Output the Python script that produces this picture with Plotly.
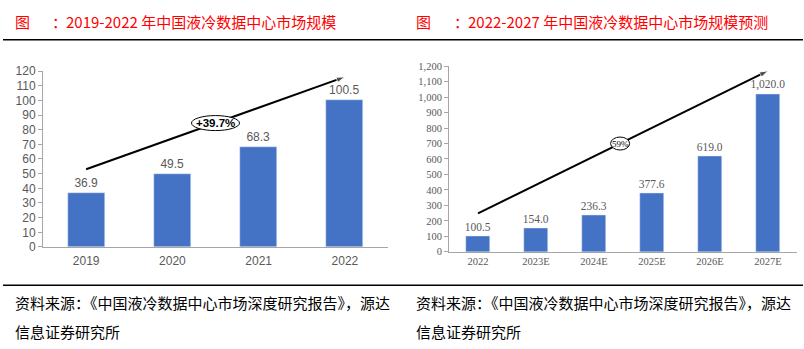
import plotly.graph_objects as go

W, H = 804, 349

# ---- data ----
years_a = ["2019", "2020", "2021", "2022"]
size_a = [36.9, 49.5, 68.3, 100.5]
trend_a_x = [0, 3]
trend_a_y = [53, 116]
cagr_a = "+39.7%"

years_b = ["2022", "2023E", "2024E", "2025E", "2026E", "2027E"]
size_b = [100.5, 154.0, 236.3, 377.6, 619.0, 1020.0]
trend_b_x = [0, 5]
trend_b_y = [249, 1171]
cagr_b = "59%"

title_a = "2019-2022 年中国液冷数据中心市场规模"
title_b = "2022-2027 年中国液冷数据中心市场规模预测"
source_l1 = "资料来源：《中国液冷数据中心市场深度研究报告》，源达"
source_l2 = "信息证券研究所"

BAR = "#4472C4"
GRAY = "#595959"
AX = "#A6A6A6"
CJK = "Noto Sans CJK SC"
SANS = "Liberation Sans, Arial"
SERIF = "Liberation Serif, DejaVu Serif"


def px(x):
    return x / W


def py(y):
    return 1 - y / H


fig = go.Figure()

fig.add_trace(go.Bar(
    x=years_a, y=size_a, marker_color=BAR, width=0.43,
    text=[f"{v:.1f}" for v in size_a], textposition="outside",
    textfont=dict(family=SANS, size=12, color=GRAY), cliponaxis=False,
    constraintext="none",
    xaxis="x", yaxis="y", showlegend=False))

fig.add_trace(go.Scatter(
    x=trend_a_x, y=trend_a_y, mode="lines+markers", xaxis="x3", yaxis="y",
    line=dict(color="black", width=2),
    marker=dict(symbol=["circle", "arrow"], size=[0, 9], color="black",
                angleref="previous"),
    showlegend=False, hoverinfo="skip", cliponaxis=False))

fig.add_trace(go.Bar(
    x=years_b, y=size_b, marker_color=BAR, width=0.43,
    texttemplate="%{y:,.1f}", textposition="outside",
    textfont=dict(family=SERIF, size=11.5, color=GRAY), cliponaxis=False,
    constraintext="none",
    xaxis="x2", yaxis="y2", showlegend=False))

fig.add_trace(go.Scatter(
    x=trend_b_x, y=trend_b_y, mode="lines+markers", xaxis="x4", yaxis="y2",
    line=dict(color="black", width=2),
    marker=dict(symbol=["circle", "arrow"], size=[0, 9], color="black",
                angleref="previous"),
    showlegend=False, hoverinfo="skip", cliponaxis=False))

common_y = dict(showgrid=False, zeroline=False, showline=True, linecolor=AX,
                ticks="outside", ticklen=4, tickcolor=AX)
common_x = dict(showgrid=False, zeroline=False, showline=True, linecolor=AX,
                ticks="")

fig.update_layout(
    width=W, height=H, margin=dict(l=0, r=0, t=0, b=0),
    paper_bgcolor="white", plot_bgcolor="white", bargap=0,
    xaxis=dict(domain=[px(43), px(388)], anchor="y", type="category",
               range=[-0.5, 3.5], tickfont=dict(family=SANS, size=12, color=GRAY),
               ticklabelstandoff=3, **common_x),
    yaxis=dict(domain=[py(250), py(66.7)], anchor="x", range=[0, 120],
               tickvals=list(range(0, 121, 10)),
               tickfont=dict(family=SANS, size=12, color=GRAY), **common_y),
    xaxis3=dict(domain=[px(43), px(388)], anchor="y", overlaying="x",
                range=[-0.5, 3.5], visible=False),
    xaxis2=dict(domain=[px(449), px(797)], anchor="y2", type="category",
                range=[-0.5, 5.5], tickfont=dict(family=SERIF, size=10.5, color=GRAY),
                **common_x),
    yaxis2=dict(domain=[py(255), py(61.7)], anchor="x2", range=[0, 1200],
                tickvals=list(range(0, 1201, 100)), tickformat=",d",
                tickfont=dict(family=SERIF, size=10.5, color=GRAY), **common_y),
    xaxis4=dict(domain=[px(449), px(797)], anchor="y2", overlaying="x2",
                range=[-0.5, 5.5], visible=False),
)

# ellipses around growth labels
mid_a = (sum(trend_a_x) / 2, sum(trend_a_y) / 2)
mid_b = (2.45, 700)
fig.add_shape(type="circle", xref="x3", yref="y", xsizemode="pixel", ysizemode="pixel",
              xanchor=mid_a[0], yanchor=mid_a[1], x0=-24, x1=24, y0=-7.5, y1=7.5,
              fillcolor="white", line=dict(color="black", width=1), layer="above")
fig.add_shape(type="circle", xref="x4", yref="y2", xsizemode="pixel", ysizemode="pixel",
              xanchor=mid_b[0], yanchor=mid_b[1], x0=-9.5, x1=9.5, y0=-6.5, y1=6.5,
              fillcolor="white", line=dict(color="black", width=1), layer="above")
fig.add_annotation(x=mid_a[0], y=mid_a[1], xref="x3", yref="y", text=f"<b>{cagr_a}</b>",
                   showarrow=False, font=dict(family=SANS, size=11.5, color="black"))
fig.add_annotation(x=mid_b[0], y=mid_b[1], xref="x4", yref="y2", text=cagr_b,
                   showarrow=False, font=dict(family=SERIF, size=9, color="black"))

# titles
RED = "#FF0000"
for x0, colon_x, tx, t in [(13, 50, 64, title_a), (414, 452, 466, title_b)]:
    fig.add_annotation(x=px(x0), y=py(15), xref="paper", yref="paper", text="图",
                       showarrow=False, xanchor="left", yanchor="middle",
                       font=dict(family=CJK, size=15, color=RED))
    fig.add_annotation(x=px(colon_x), y=py(15), xref="paper", yref="paper", text="：",
                       showarrow=False, xanchor="left", yanchor="middle",
                       font=dict(family=CJK, size=15, color=RED))
    fig.add_annotation(x=px(tx), y=py(15), xref="paper", yref="paper", text=t,
                       showarrow=False, xanchor="left", yanchor="middle",
                       font=dict(family=CJK, size=15, color=RED))

# sources
for x0 in (13, 414):
    fig.add_annotation(x=px(x0), y=py(308), xref="paper", yref="paper", text=source_l1,
                       showarrow=False, xanchor="left", yanchor="middle",
                       font=dict(family=CJK, size=15, color="black"))
    fig.add_annotation(x=px(x0), y=py(338), xref="paper", yref="paper", text=source_l2,
                       showarrow=False, xanchor="left", yanchor="middle",
                       font=dict(family=CJK, size=15, color="black"))

# rules
fig.add_shape(type="line", xref="paper", yref="paper", x0=px(3), x1=px(803),
              y0=py(34), y1=py(34), line=dict(color="black", width=1.5))
fig.add_shape(type="line", xref="paper", yref="paper", x0=px(3), x1=px(803),
              y0=py(290), y1=py(290), line=dict(color="black", width=1.5))

fig.write_html("out.html")
